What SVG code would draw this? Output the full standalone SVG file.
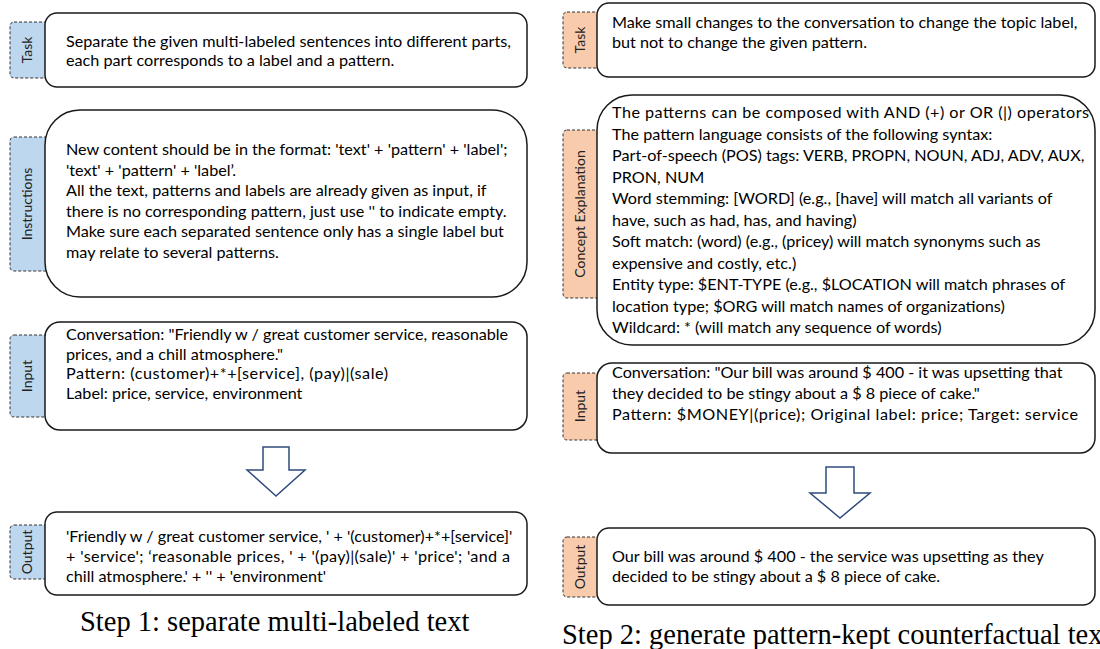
<svg xmlns="http://www.w3.org/2000/svg" width="1100" height="649" viewBox="0 0 1100 649">
<style>
.box{fill:#fff;stroke:#1a1a1a;stroke-width:1.5}
.tabb{fill:#BDD7EE;stroke:#333;stroke-width:1;stroke-dasharray:3,2}
.tabo{fill:#F8CBAD;stroke:#333;stroke-width:1;stroke-dasharray:3,2}
.tl{font-family:Lato,"Liberation Sans",sans-serif;font-size:14px;fill:#222;text-anchor:middle}
.t{font-family:Lato,"Liberation Sans",sans-serif;font-size:16.2px;fill:#000}
.cap{font-family:"Liberation Serif",serif;font-size:28.5px;fill:#000}
.arr{fill:#fff;stroke:#2F4B7C;stroke-width:1.5;stroke-linejoin:miter}
</style>
<g id="left-task">
<rect class="tabb" x="10" y="22" width="40" height="56" rx="4"/>
<rect class="box" x="45" y="13" width="482" height="74" rx="12"/>
<text class="tl" transform="translate(32,50) rotate(-90)">Task</text>
<text class="t" x="66" y="47">Separate the given multi-labeled sentences into different parts,</text>
<text class="t" x="66" y="66">each part corresponds to a label and a pattern.</text>
</g>
<g id="left-instructions">
<rect class="tabb" x="10" y="137" width="40" height="134" rx="4"/>
<rect class="box" x="45" y="110" width="482" height="187" rx="35"/>
<text class="tl" transform="translate(32,204) rotate(-90)">Instructions</text>
<text class="t" x="66" y="155">New content should be in the format: 'text' + 'pattern' + 'label';</text>
<text class="t" x="66" y="175.6">'text' + 'pattern' + 'label’.</text>
<text class="t" x="66" y="196.2">All the text, patterns and labels are already given as input, if</text>
<text class="t" x="66" y="216.8">there is no corresponding pattern, just use '' to indicate empty.</text>
<text class="t" x="66" y="237.4">Make sure each separated sentence only has a single label but</text>
<text class="t" x="66" y="258">may relate to several patterns.</text>
</g>
<g id="left-input">
<rect class="tabb" x="10" y="335" width="40" height="82" rx="4"/>
<rect class="box" x="45" y="322" width="482" height="108" rx="15"/>
<text class="tl" transform="translate(32,376) rotate(-90)">Input</text>
<text class="t" x="66" y="340">Conversation: "Friendly w / great customer service, reasonable</text>
<text class="t" x="66" y="359.7">prices, and a chill atmosphere."</text>
<text class="t" x="66" y="379.4" textLength="322">Pattern: (customer)+*+[service], (pay)|(sale)</text>
<text class="t" x="66" y="399.1">Label: price, service, environment</text>
</g>
<g id="left-output">
<rect class="tabb" x="10" y="525" width="40" height="54" rx="4"/>
<rect class="box" x="45" y="512" width="482" height="83" rx="12"/>
<text class="tl" transform="translate(32,552) rotate(-90)">Output</text>
<text class="t" x="66" y="542">'Friendly w / great customer service, ' + '(customer)+*+[service]'</text>
<text class="t" x="66" y="562" textLength="444">+ 'service'; ‘reasonable prices, ' + '(pay)|(sale)' + 'price'; 'and a</text>
<text class="t" x="66" y="582">chill atmosphere.' + '' + 'environment'</text>
</g>
<g id="right-task">
<rect class="tabo" x="563" y="12" width="40" height="56" rx="4"/>
<rect class="box" x="597" y="3" width="498" height="74" rx="12"/>
<text class="tl" transform="translate(585,40) rotate(-90)">Task</text>
<text class="t" x="612" y="28">Make small changes to the conversation to change the topic label,</text>
<text class="t" x="612" y="48">but not to change the given pattern.</text>
</g>
<g id="right-concept">
<rect class="tabo" x="563" y="130" width="40" height="168" rx="4"/>
<rect class="box" x="597" y="95" width="498" height="250" rx="35"/>
<text class="tl" transform="translate(585,214) rotate(-90)">Concept Explanation</text>
<text class="t" x="612" y="118" textLength="477">The patterns can be composed with AND (+) or OR (|) operators</text>
<text class="t" x="612" y="139.5">The pattern language consists of the following syntax:</text>
<text class="t" x="612" y="161">Part-of-speech (POS) tags: VERB, PROPN, NOUN, ADJ, ADV, AUX,</text>
<text class="t" x="612" y="182.5">PRON, NUM</text>
<text class="t" x="612" y="204">Word stemming: [WORD] (e.g., [have] will match all variants of</text>
<text class="t" x="612" y="225.5">have, such as had, has, and having)</text>
<text class="t" x="612" y="247">Soft match: (word) (e.g., (pricey) will match synonyms such as</text>
<text class="t" x="612" y="268.5">expensive and costly, etc.)</text>
<text class="t" x="612" y="290">Entity type: $ENT-TYPE (e.g., $LOCATION will match phrases of</text>
<text class="t" x="612" y="311.5">location type; $ORG will match names of organizations)</text>
<text class="t" x="612" y="333">Wildcard: * (will match any sequence of words)</text>
</g>
<g id="right-input">
<rect class="tabo" x="563" y="373" width="40" height="67" rx="4"/>
<rect class="box" x="597" y="363" width="498" height="90" rx="15"/>
<text class="tl" transform="translate(585,406) rotate(-90)">Input</text>
<text class="t" x="612" y="378">Conversation: "Our bill was around $ 400 - it was upsetting that</text>
<text class="t" x="612" y="398.8">they decided to be stingy about a $ 8 piece of cake."</text>
<text class="t" x="612" y="419.6" textLength="466">Pattern: $MONEY|(price); Original label: price; Target: service</text>
</g>
<g id="right-output">
<rect class="tabo" x="563" y="537" width="40" height="60" rx="4"/>
<rect class="box" x="597" y="528" width="498" height="77" rx="12"/>
<text class="tl" transform="translate(585,567) rotate(-90)">Output</text>
<text class="t" x="612" y="562">Our bill was around $ 400 - the service was upsetting as they</text>
<text class="t" x="612" y="582">decided to be stingy about a $ 8 piece of cake.</text>
</g>
<g id="connectors">
<path class="arr" d="M263,447 H289 V470 H305 L276,496 L247,470 H263 Z"/>
<path class="arr" d="M826,467 H854 V493 H870 L840,518 L810,493 H826 Z"/>
</g>
<g id="captions">
<text class="cap" x="80" y="631">Step 1: separate multi-labeled text</text>
<text class="cap" x="562" y="644">Step 2: generate pattern-kept counterfactual text</text>
</g>
</svg>
